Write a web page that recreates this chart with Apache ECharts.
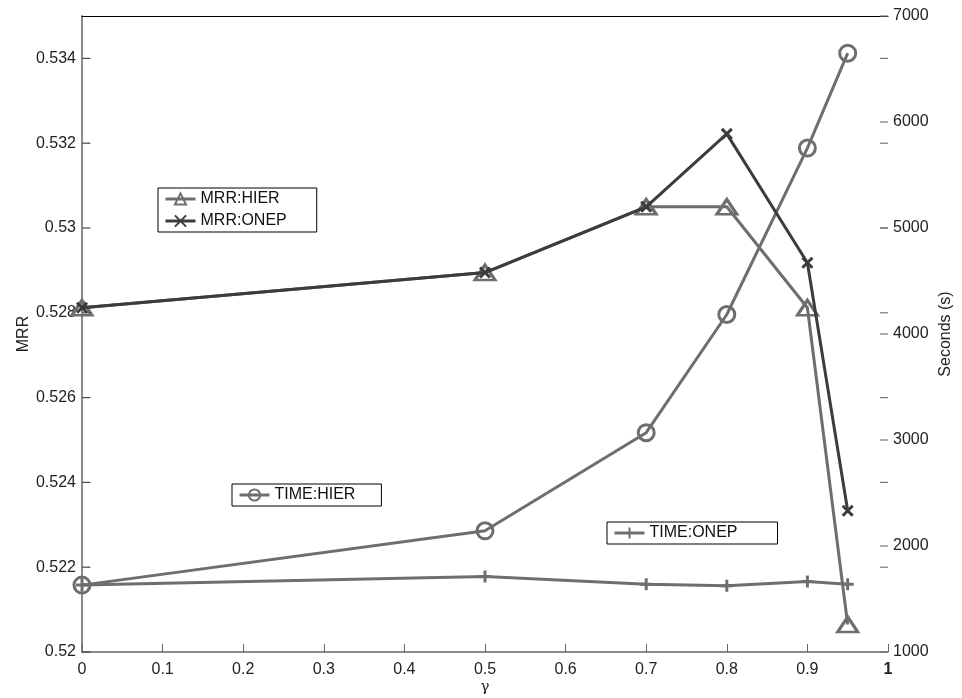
<!DOCTYPE html>
<html>
<head>
<meta charset="utf-8">
<script src="https://cdn.jsdelivr.net/npm/echarts@6/dist/echarts.min.js"></script>
<style>html,body{margin:0;padding:0;background:#fff}#c{width:962px;height:698px}</style>
</head>
<body>
<div id="c"></div>
<script>
const gammas = [0, 0.5, 0.7, 0.8, 0.9, 0.95];
const mrrHier = [0.52812, 0.52895, 0.5305, 0.5305, 0.52812, 0.52065];
const mrrOnep = [0.52812, 0.52895, 0.5305, 0.53222, 0.52918, 0.52333];
const timeHier = [1631, 2143, 3069, 4184, 5754, 6649];
const timeOnep = [1631, 1713, 1640, 1625, 1666, 1640];
const mrrTicks = [0.52, 0.522, 0.524, 0.526, 0.528, 0.53, 0.532, 0.534];
const timeTicks = [1000, 2000, 3000, 4000, 5000, 6000, 7000];
const seriesNames = ['MRR:HIER', 'MRR:ONEP', 'TIME:HIER', 'TIME:ONEP'];

const FONT = 'Liberation Sans, Arial, sans-serif';
const G = '#6e6e6e', D = '#3c3c3c';
const pairs = arr => gammas.map((g, i) => [g, arr[i]]);
const xSym = 'path://M0,0L10,10M10,0L0,10';
const plusSym = 'path://M5,0L5,10M0,5L10,5';

// tick marks drawn through the axes' own scales; each item: [x, value, direction]
function tickSeries(name, yIndex, items, color) {
  return {
    name: name, type: 'custom', yAxisIndex: yIndex, silent: true,
    data: items, z: 10, zlevel: 1, clip: false,
    encode: { x: 0, y: 1 },
    renderItem: (params, api) => {
      const p = api.coord([api.value(0), api.value(1)]);
      const dir = api.value(2);
      return { type: 'line', shape: { x1: p[0], y1: p[1], x2: p[0] + dir * 8, y2: p[1] },
        style: { stroke: color, lineWidth: 1.2 } };
    }
  };
}

const chart = echarts.init(document.getElementById('c'));
const legendBase = {
  orient: 'vertical', backgroundColor: '#fff', borderColor: '#000', borderWidth: 1,
  itemWidth: 30, itemHeight: 14, itemGap: 6,
  textStyle: { fontFamily: FONT, fontSize: 16, color: '#111' },
  lineStyle: { width: 3 },
  selectedMode: false
};
chart.setOption({
  animation: false,
  grid: { left: 82, right: 74, top: 16, bottom: 46, outerBoundsMode: 'none', containLabel: false },
  legend: [
    Object.assign({}, legendBase, { left: 158, top: 188, padding: [3, 30, 3, 6], data: [seriesNames[0], seriesNames[1]] }),
    Object.assign({}, legendBase, { left: 232, top: 484, padding: [3, 26, 3, 6], data: [seriesNames[2]] }),
    Object.assign({}, legendBase, { left: 607, top: 522, padding: [3, 40, 3, 6], data: [seriesNames[3]] })
  ],
  xAxis: [{
    type: 'value', min: 0, max: 1, interval: 0.1,
    name: 'γ', nameLocation: 'middle', nameGap: 28, nameMoveOverlap: false,
    nameTextStyle: { fontFamily: 'DejaVu Serif, serif', fontSize: 15, color: '#222' },
    axisLine: { lineStyle: { color: '#666', width: 1.5 } },
    axisTick: { inside: true, length: 8, lineStyle: { color: '#666' } },
    axisLabel: {
      fontFamily: FONT, fontSize: 16, color: '#222', margin: 10,
      formatter: v => v === 1 ? '{b|1}' : String(+v.toFixed(1)),
      rich: { b: { fontFamily: FONT, fontSize: 16, fontWeight: 'bold', color: '#222' } }
    },
    splitLine: { show: false }
  }, {
    type: 'value', min: 0, max: 1, position: 'top',
    axisLine: { lineStyle: { color: '#000', width: 1 } },
    axisTick: { show: false }, axisLabel: { show: false }, splitLine: { show: false }
  }],
  yAxis: [{
    type: 'value', min: 0.52, max: 0.535, interval: 0.002, position: 'left',
    name: 'MRR', nameLocation: 'middle', nameGap: 50, nameRotate: 90, nameMoveOverlap: false,
    nameTextStyle: { fontFamily: FONT, fontSize: 16, color: '#222' },
    axisLine: { show: true, lineStyle: { color: '#333', width: 1.5 } },
    axisTick: { show: false },
    axisLabel: { fontFamily: FONT, fontSize: 16, color: '#222', margin: 6, showMaxLabel: false,
      formatter: v => String(+v.toFixed(3)) },
    splitLine: { show: false }
  }, {
    type: 'value', min: 1000, max: 7000, interval: 1000, position: 'right',
    name: 'Seconds (s)', nameLocation: 'middle', nameGap: 50, nameRotate: 90, nameMoveOverlap: false,
    nameTextStyle: { fontFamily: FONT, fontSize: 16, color: '#222' },
    axisLine: { show: true, lineStyle: { color: '#999', width: 1.5 } },
    axisTick: { show: false },
    axisLabel: { fontFamily: FONT, fontSize: 16, color: '#222', margin: 5, formatter: v => String(v) },
    splitLine: { show: false }
  }],
  series: [{
    name: seriesNames[0], type: 'line', yAxisIndex: 0, data: pairs(mrrHier),
    symbol: 'triangle', symbolSize: [20, 15],
    lineStyle: { color: G, width: 3 },
    itemStyle: { color: 'rgba(255,255,255,0)', borderColor: G, borderWidth: 3 }, z: 2
  }, {
    name: seriesNames[1], type: 'line', yAxisIndex: 0, data: pairs(mrrOnep),
    symbol: xSym, symbolSize: 10,
    lineStyle: { color: D, width: 3 },
    itemStyle: { color: D, borderColor: D, borderWidth: 3 }, z: 3
  }, {
    name: seriesNames[2], type: 'line', yAxisIndex: 1, data: pairs(timeHier),
    symbol: 'circle', symbolSize: 16,
    lineStyle: { color: G, width: 3 },
    itemStyle: { color: 'rgba(255,255,255,0)', borderColor: G, borderWidth: 3 }, z: 2
  }, {
    name: seriesNames[3], type: 'line', yAxisIndex: 1, data: pairs(timeOnep),
    symbol: plusSym, symbolSize: [12, 12],
    lineStyle: { color: G, width: 3 },
    itemStyle: { color: G, borderColor: G, borderWidth: 3 }, z: 2
  },
    tickSeries('mrrLeftTicks', 0, mrrTicks.map(v => [0.0005, v, 1]), '#444'),
    tickSeries('mrrRightTicks', 0, mrrTicks.map(v => [1, v, -1]), '#777'),
    tickSeries('timeTickMarks', 1, timeTicks.map(v => [1, v, -1]), '#777')
  ]
});
</script>
</body>
</html>
